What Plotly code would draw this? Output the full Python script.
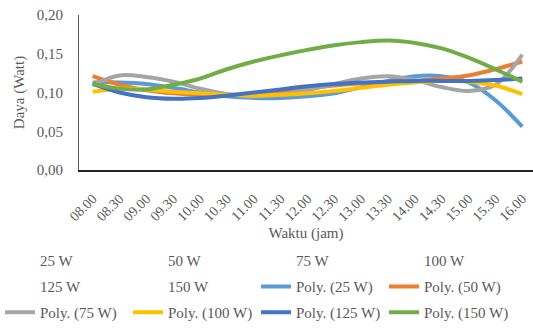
import plotly.graph_objects as go

# Waktu pengukuran (jam)
waktu = ["08.00", "08.30", "09.00", "09.30", "10.00", "10.30", "11.00", "11.30",
         "12.00", "12.30", "13.00", "13.30", "14.00", "14.30", "15.00", "15.30", "16.00"]

# Daya (Watt) per beban lampu, garis tren polinomial
daya_25w = [0.113, 0.113, 0.111, 0.106, 0.100, 0.095, 0.093, 0.093, 0.095, 0.099,
            0.107, 0.115, 0.121, 0.121, 0.113, 0.090, 0.056]
daya_50w = [0.121, 0.110, 0.103, 0.099, 0.097, 0.097, 0.098, 0.101, 0.105, 0.109,
            0.112, 0.114, 0.115, 0.118, 0.122, 0.130, 0.140]
daya_75w = [0.110, 0.122, 0.120, 0.114, 0.105, 0.098, 0.095, 0.097, 0.103, 0.111,
            0.118, 0.121, 0.116, 0.107, 0.102, 0.110, 0.149]
daya_100w = [0.101, 0.105, 0.104, 0.101, 0.099, 0.097, 0.096, 0.097, 0.099, 0.102,
             0.106, 0.110, 0.113, 0.115, 0.114, 0.109, 0.098]
daya_125w = [0.111, 0.100, 0.094, 0.092, 0.093, 0.096, 0.100, 0.104, 0.108, 0.111,
             0.113, 0.114, 0.115, 0.115, 0.115, 0.116, 0.118]
daya_150w = [0.111, 0.105, 0.104, 0.110, 0.118, 0.130, 0.140, 0.148, 0.155, 0.161,
             0.165, 0.167, 0.164, 0.157, 0.145, 0.130, 0.114]

beban = ["25 W", "50 W", "75 W", "100 W", "125 W", "150 W"]
seri = [daya_25w, daya_50w, daya_75w, daya_100w, daya_125w, daya_150w]
warna = ["#5B9BD5", "#ED7D31", "#A5A5A5", "#FFC000", "#4472C4", "#70AD47"]

FONT = "Liberation Serif"
ABU = "#595959"

# Geometri area plot (piksel) untuk penempatan legenda di bawahnya
W, H = 533, 329
ML, MR, MT, MB = 69, 0, 15, 156
PW, PH = W - ML - MR, H - MT - MB

fig = go.Figure()

# Seri data mentah (tanpa garis, hanya entri legenda)
for i, (nama, y) in enumerate(zip(beban, seri)):
    fig.add_trace(go.Scatter(
        x=waktu, y=y, name=nama, mode="lines",
        line=dict(width=0, color="rgba(0,0,0,0)"),
        hoverinfo="skip",
        legend="legend" if i < 4 else "legend2",
    ))

# Garis tren polinomial
for i, (nama, y, c) in enumerate(zip(beban, seri, warna)):
    fig.add_trace(go.Scatter(
        x=waktu, y=y, name=f"Poly. ({nama})", mode="lines",
        line=dict(width=4, color=c, shape="spline", smoothing=1.0),
        legend="legend2" if i < 2 else "legend3",
    ))

legend_common = dict(
    orientation="h", xanchor="left", yanchor="middle",
    font=dict(family=FONT, size=15, color=ABU),
    entrywidth=83, entrywidthmode="pixels",
    bgcolor="rgba(0,0,0,0)", borderwidth=0,
    itemclick=False, itemdoubleclick=False,
    traceorder="normal",
    x=(-12 - ML) / PW,
)


def row_y(py):
    return (H - MB - py) / PH


fig.update_layout(
    width=W, height=H,
    margin=dict(l=ML, r=MR, t=MT, b=MB),
    plot_bgcolor="white", paper_bgcolor="white",
    separators=", ",
    font=dict(family=FONT, size=15, color=ABU),
    legend=dict(**legend_common, y=row_y(265)),
    legend2=dict(**legend_common, y=row_y(292)),
    legend3=dict(**legend_common, y=row_y(319)),
    xaxis=dict(
        type="category", range=[-0.51, 16.40],
        tickangle=-45, showgrid=False, zeroline=False,
        showline=True, linecolor="#262626", linewidth=2,
        ticks="", ticklabelstandoff=13,
        tickfont=dict(family=FONT, size=14, color=ABU),
        title=dict(text="Waktu (jam)", standoff=4,
                   font=dict(family=FONT, size=15, color=ABU)),
    ),
    yaxis=dict(
        range=[0, 0.20], dtick=0.05, tickformat=".2f",
        showgrid=False, zeroline=False,
        showline=True, linecolor="#595959", linewidth=1,
        ticks="", ticklabelstandoff=12,
        tickfont=dict(family=FONT, size=15, color=ABU),
        title=dict(text="Daya (Watt)", standoff=8,
                   font=dict(family=FONT, size=15, color=ABU)),
    ),
)

fig.write_html("out.html")
